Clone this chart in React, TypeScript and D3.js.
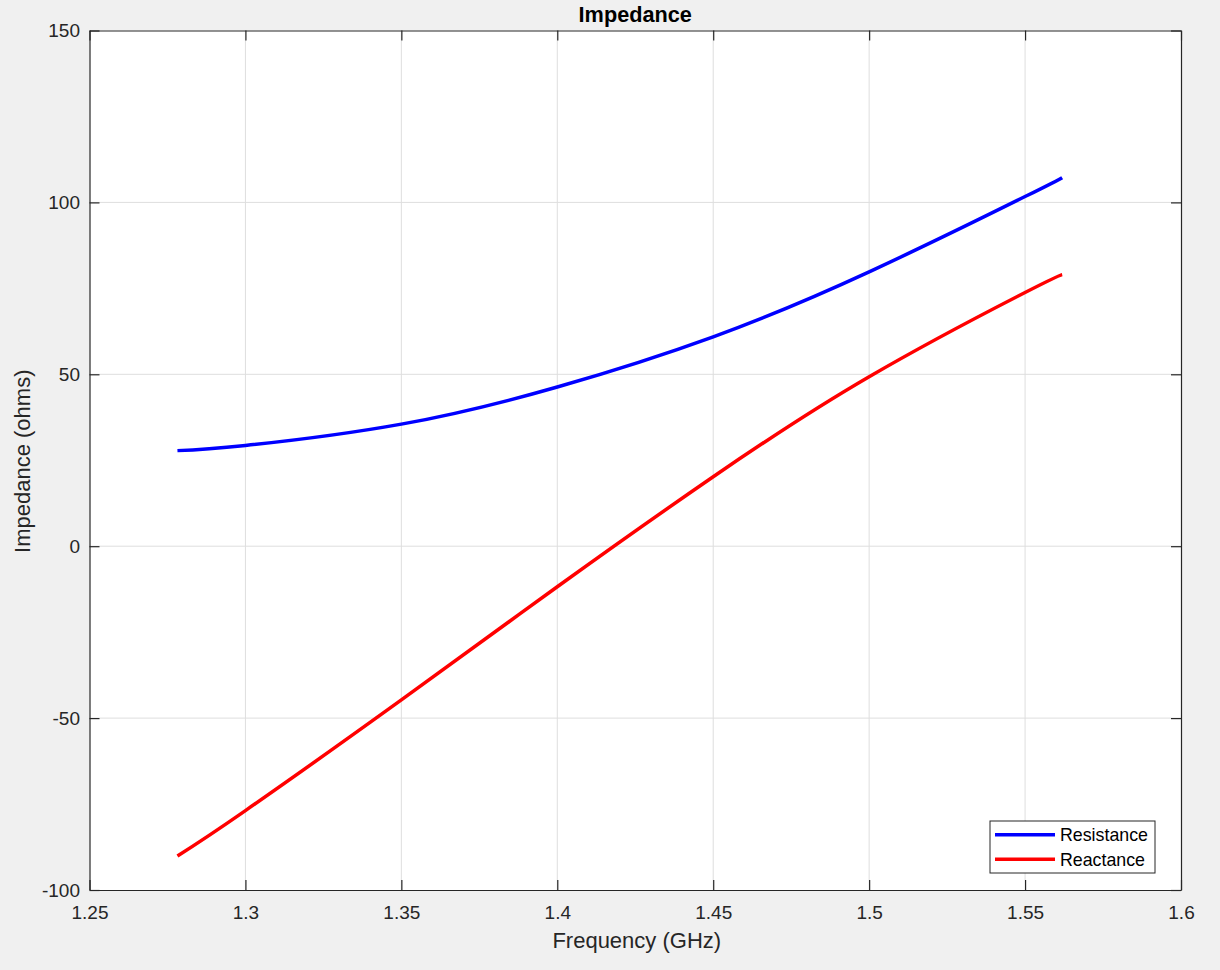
import React, { useRef, useEffect } from 'react';
import * as d3 from 'd3';

// values
const frequency = [1.2782, 1.3, 1.35, 1.4, 1.45, 1.5, 1.55, 1.5619];
const resistance = [27.8, 29.3, 35.5, 46.3, 60.9, 79.8, 101.7, 107.2];
const reactance = [-90.1, -76.9, -44.7, -11.8, 20.2, 49.3, 73.8, 79.0];
const xTicks = [1.25, 1.3, 1.35, 1.4, 1.45, 1.5, 1.55, 1.6];
const yTicks = [-100, -50, 0, 50, 100, 150];
const seriesNames = ['Resistance', 'Reactance'];
const seriesColors = ['#0000ff', '#ff0000'];

const W = 1220;
const H = 970;
const FONT = '"Liberation Sans", Arial, Helvetica, sans-serif';
const INK = '#262626';

const App = () => {
  const svgRef = useRef<SVGSVGElement>(null);

  useEffect(() => {
    const svg = d3.select(svgRef.current);
    svg.selectAll('*').remove();

    const margin = { top: 30.5, left: 89.5 };
    const width = 1181 - margin.left;
    const height = 890 - margin.top;

    svg.append('rect').attr('width', W).attr('height', H).attr('fill', '#f0f0f0');

    const g = svg.append('g').attr('transform', `translate(${margin.left},${margin.top})`);

    const x = d3.scaleLinear().domain([1.25, 1.6]).range([0, width]);
    const y = d3.scaleLinear().domain([-100, 150]).range([height, 0]);

    g.append('rect').attr('width', width).attr('height', height).attr('fill', '#ffffff');

    // grid
    g.append('g')
      .selectAll('line')
      .data(xTicks.slice(1, -1))
      .enter()
      .append('line')
      .attr('x1', d => x(d)).attr('x2', d => x(d))
      .attr('y1', 0).attr('y2', height)
      .attr('stroke', '#dedede').attr('stroke-width', 1);

    g.append('g')
      .selectAll('line')
      .data(yTicks.slice(1, -1))
      .enter()
      .append('line')
      .attr('x1', 0).attr('x2', width)
      .attr('y1', d => y(d)).attr('y2', d => y(d))
      .attr('stroke', '#dedede').attr('stroke-width', 1);

    // series
    const line = d3.line<number>()
      .x((d, i) => x(frequency[i]))
      .y(d => y(d))
      .curve(d3.curveNatural);

    [resistance, reactance].forEach((vals, i) => {
      g.append('path')
        .attr('d', line(vals))
        .attr('fill', 'none')
        .attr('stroke', seriesColors[i])
        .attr('stroke-width', 3.5);
    });

    // axes
    const styleAxis = (sel: any) => {
      sel.select('.domain').attr('stroke', INK).attr('stroke-width', 1.2);
      sel.selectAll('.tick line').attr('stroke', INK).attr('stroke-width', 1.2);
      sel.selectAll('.tick text')
        .attr('fill', INK)
        .style('font-family', FONT)
        .style('font-size', '19px');
    };

    g.append('g')
      .attr('transform', `translate(0,${height})`)
      .call(d3.axisBottom(x).tickValues(xTicks).tickFormat(d => String(d)).tickSizeInner(-10).tickSizeOuter(0).tickPadding(16))
      .call(styleAxis);

    g.append('g')
      .call(d3.axisTop(x).tickValues(xTicks).tickFormat(() => '').tickSizeInner(-10).tickSizeOuter(0))
      .call(styleAxis);

    g.append('g')
      .call(d3.axisLeft(y).tickValues(yTicks).tickFormat(d => String(d)).tickSizeInner(-10).tickSizeOuter(0).tickPadding(9.5))
      .call(styleAxis);

    g.append('g')
      .attr('transform', `translate(${width},0)`)
      .call(d3.axisRight(y).tickValues(yTicks).tickFormat(() => '').tickSizeInner(-10).tickSizeOuter(0))
      .call(styleAxis);

    // labels
    g.append('text')
      .attr('x', width / 2)
      .attr('y', -8.5)
      .attr('text-anchor', 'middle')
      .style('font-family', FONT)
      .style('font-size', '21.7px')
      .style('font-weight', 'bold')
      .attr('fill', '#000')
      .text('Impedance');

    g.append('text')
      .attr('x', width / 2 + 1.5)
      .attr('y', height + 57.5)
      .attr('text-anchor', 'middle')
      .style('font-family', FONT)
      .style('font-size', '22px')
      .attr('fill', INK)
      .text('Frequency (GHz)');

    g.append('text')
      .attr('transform', 'rotate(-90)')
      .attr('x', -height / 2 - 1)
      .attr('y', -60)
      .attr('text-anchor', 'middle')
      .style('font-family', FONT)
      .style('font-size', '22px')
      .attr('fill', INK)
      .text('Impedance (ohms)');

    // legend
    const legend = svg.append('g').attr('transform', 'translate(990,821)');
    legend.append('rect')
      .attr('width', 165).attr('height', 52)
      .attr('fill', '#fff').attr('stroke', INK).attr('stroke-width', 1);

    const items = legend.selectAll('.legend-item')
      .data(seriesNames)
      .enter()
      .append('g')
      .attr('transform', (d, i) => `translate(0,${13.7 + i * 24.6})`);

    items.append('line')
      .attr('x1', 5).attr('x2', 65)
      .attr('stroke', (d, i) => seriesColors[i])
      .attr('stroke-width', 3.5);

    items.append('text')
      .attr('x', 70)
      .attr('y', 6.5)
      .style('font-family', FONT)
      .style('font-size', '17.8px')
      .attr('fill', '#000')
      .text(d => d);
  }, []);

  return (
    <svg
      ref={svgRef}
      width={W}
      height={H}
      style={{ position: 'absolute', left: 0, top: 0, display: 'block' }}
    />
  );
};

export default App;
